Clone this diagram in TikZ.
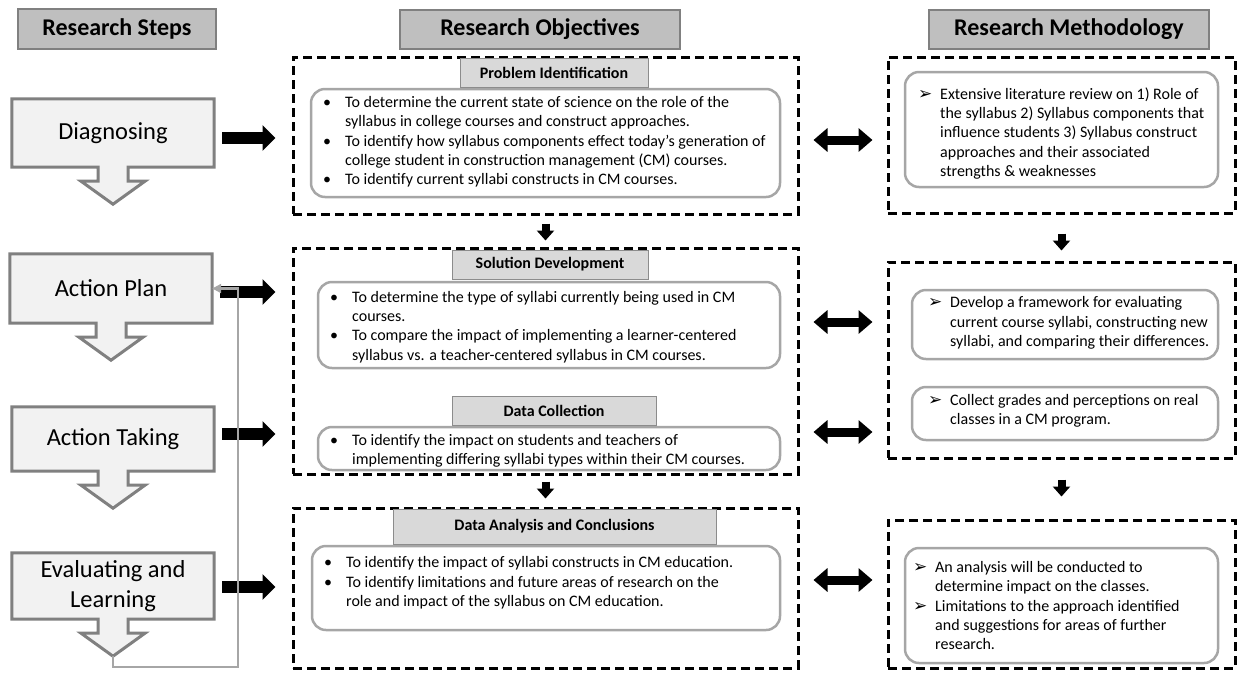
\documentclass[tikz,border=0pt]{standalone}
\usepackage{fontspec}
\setmainfont{Carlito}
\newfontfamily\symfont{DejaVu Sans}
\usetikzlibrary{calc, positioning}
\usetikzlibrary{arrows.meta}
\usetikzlibrary{backgrounds}

\definecolor{stepfill}{HTML}{F2F2F2}
\definecolor{stepline}{HTML}{808080}
\definecolor{headfill}{HTML}{BFBFBF}
\definecolor{titlefill}{HTML}{D9D9D9}
\definecolor{titleline}{HTML}{8C8C8C}
\definecolor{roundline}{HTML}{A6A6A6}

% bullets for the text boxes
\newcommand{\bul}{\makebox[24pt][l]{\hspace{2pt}\textbullet}}
\newcommand{\cont}{\hspace*{24pt}}
\newcommand{\arr}{\makebox[22pt][l]{{\symfont\fontsize{17}{16}\selectfont ➢}}}
\newcommand{\arrc}{\hspace*{22pt}}

\tikzset{
  headbox/.style={draw=stepline, fill=headfill, line width=1.5, inner sep=0,
    font=\bfseries\fontsize{24}{28}\selectfont},
  steptext/.style={minimum width=202, minimum height=#1, inner sep=0, align=center,
    font=\fontsize{24.5}{30}\selectfont},
  stepline/.style={draw=stepline, fill=stepfill, line width=3},
  dashbox/.style={draw=black, line width=3, dash pattern=on 9pt off 5pt, inner sep=0},
  titlebox/.style={draw=titleline, fill=titlefill, line width=1, inner sep=0,
    font=\bfseries\fontsize{16}{19}\selectfont},
  roundbox/.style={draw=roundline, fill=white, line width=2.5, rounded corners=14, inner sep=0},
  bodytext/.style={anchor=west, align=left, inner sep=0, font=\fontsize{16}{19.3}\selectfont},
  bigarrow/.style={line width=12, -{Triangle[length=13pt, width=25pt]}, shorten <=8, shorten >=16},
  dblarrow/.style={line width=9, {Triangle[length=14pt, width=23pt]}-{Triangle[length=14pt, width=23pt]},
    shorten <=14, shorten >=14},
  downarrow/.style={line width=8, -{Triangle[length=10pt, width=17pt]}},
  loopline/.style={draw=roundline, line width=2.5, -{Triangle[length=9pt, width=9pt]}},
}

\begin{document}
\begin{tikzpicture}[x=1pt, y=-1pt]
\def\stemw{15}
\def\steml{14}
\def\headw{32}
\def\headl{23}
\useasboundingbox (0,0) rectangle (1239,673);

% column headers
\node[headbox, minimum width=198, minimum height=40] (hsteps) at (117,29) {Research Steps};
\node[headbox, minimum width=280, minimum height=39] (hobj) at (540,29.5) {Research Objectives};
\node[headbox, minimum width=280, minimum height=39] (hmeth) at (1069,29.5) {Research Methodology};

% research steps
\node[steptext=68] (diag) at (113,133) {Diagnosing};
\node[steptext=69] (plan) at (111,288.5) {Action Plan};
\node[steptext=64] (take) at (113,439) {Action Taking};
\node[steptext=66] (eval) at (113,586) {Evaluating and\\Learning};

\begin{scope}[on background layer]
\foreach \stp in {diag,plan,take,eval}{
  \draw[stepline] (\stp.north west) -- (\stp.north east) -- (\stp.south east)
    -- ($(\stp.south)+(\stemw,0)$) -- ++(0,\steml) -- ++({\headw-\stemw},0)
    -- ($(\stp.south)+(0,{\steml+\headl})$) coordinate (\stp-tip)
    -- ($(\stp.south)+(-\headw,\steml)$) -- ++({\headw-\stemw},0)
    -- ($(\stp.south)+(-\stemw,0)$) -- (\stp.south west) -- cycle;
}
\end{scope}

% research objectives
\node[dashbox, minimum width=505, minimum height=157] (obj1) at (545.5,135.5) {};
\node[roundbox, minimum width=469, minimum height=108] (bprob) at (545.5,143) {};
\node[titlebox, minimum width=188, minimum height=29] (tprob) at (554,72.5) {Problem Identification};
\node[bodytext] (xprob) at (321,142) {\bul To determine the current state of science on the role of the\\
  \cont syllabus in college courses and construct approaches.\\
  \bul To identify how syllabus components effect today’s generation of\\
  \cont college student in construction management (CM) courses.\\
  \bul To identify current syllabi constructs in CM courses.};

\node[dashbox, minimum width=505, minimum height=226] (obj2) at (545.5,361) {};
\node[roundbox, minimum width=462, minimum height=86] (bsol) at (549,325) {};
\node[titlebox, minimum width=196, minimum height=29] (tsol) at (550,264.5) {Solution Development};
\node[bodytext] (xsol) at (328,327) {\bul To determine the type of syllabi currently being used in CM\\
  \cont courses.\\
  \bul To compare the impact of implementing a learner-centered\\
  \cont syllabus vs. a teacher-centered syllabus in CM courses.};
\node[roundbox, minimum width=462, minimum height=43] (bcol) at (549,448.5) {};
\node[titlebox, minimum width=204, minimum height=29] (tdata) at (554,410.5) {Data Collection};
\node[bodytext] (xcol) at (328,451) {\bul To identify the impact on students and teachers of\\
  \cont implementing differing syllabi types within their CM courses.};

\node[dashbox, minimum width=505, minimum height=160] (obj3) at (545.5,588) {};
\node[roundbox, minimum width=468, minimum height=84] (bana) at (546,588) {};
\node[titlebox, minimum width=323, minimum height=35] (tana) at (554.5,526.5) {Data Analysis and Conclusions};
\node[bodytext] (xana) at (322,583) {\bul To identify the impact of syllabi constructs in CM education.\\
  \bul To identify limitations and future areas of research on the\\
  \cont role and impact of the syllabus on CM education.};

% research methodology
\node[dashbox, minimum width=347, minimum height=156] (meth1) at (1061.5,135) {};
\node[roundbox, minimum width=313, minimum height=115] (mlit) at (1061.5,129.5) {};
\node[bodytext] (xlit) at (918,133.5) {\arr Extensive literature review on 1) Role of\\
  \arrc the syllabus 2) Syllabus components that\\
  \arrc influence students 3) Syllabus construct\\
  \arrc approaches and their associated\\
  \arrc strengths \& weaknesses};

\node[dashbox, minimum width=347, minimum height=196] (meth2) at (1061.5,360) {};
\node[roundbox, minimum width=306, minimum height=69] (mframe) at (1065,324.5) {};
\node[bodytext] (xframe) at (928,323) {\arr Develop a framework for evaluating\\
  \arrc current course syllabi, constructing new\\
  \arrc syllabi, and comparing their differences.};
\node[roundbox, minimum width=306, minimum height=53] (mgrade) at (1065,413.5) {};
\node[bodytext] (xgrade) at (928,410.5) {\arr Collect grades and perceptions on real\\
  \arrc classes in a CM program.};

\node[dashbox, minimum width=347, minimum height=148] (meth3) at (1061.5,594) {};
\node[roundbox, minimum width=313, minimum height=115] (manal) at (1061.5,605.5) {};
\node[bodytext] (xanal) at (913,605.5) {\arr An analysis will be conducted to\\
  \arrc determine impact on the classes.\\
  \arr Limitations to the approach identified\\
  \arrc and suggestions for areas of further\\
  \arrc research.};

% steps to objectives
\coordinate (a1) at (0,138);
\coordinate (a2) at (0,292);
\coordinate (a3) at (0,434);
\coordinate (a4) at (0,587);
\draw[bigarrow] (diag.east |- a1) -- (obj1.west |- a1);
\draw[bigarrow] (plan.east |- a2) -- (obj2.west |- a2);
\draw[bigarrow] (take.east |- a3) -- (obj2.west |- a3);
\draw[bigarrow] (eval.east |- a4) -- (obj3.west |- a4);

% objectives to methodology
\coordinate (d1) at (0,140);
\coordinate (d2) at (0,322);
\coordinate (d3) at (0,432);
\coordinate (d4) at (0,580);
\draw[dblarrow] (obj1.east |- d1) -- (meth1.west |- d1);
\draw[dblarrow] (obj2.east |- d2) -- (meth2.west |- d2);
\draw[dblarrow] (obj2.east |- d3) -- (meth2.west |- d3);
\draw[dblarrow] (obj3.east |- d4) -- (meth3.west |- d4);

% flow between boxes
\draw[downarrow, shorten <=8, shorten >=6] (obj1.south) -- (obj2.north);
\draw[downarrow, shorten <=6, shorten >=8] (obj2.south) -- (obj3.north);
\draw[downarrow, shorten <=19, shorten >=10] (meth1.south) -- (meth2.north);
\draw[downarrow, shorten <=20, shorten >=22] (meth2.south) -- (meth3.north);

% feedback loop
\coordinate (loopx) at (238,667);
\draw[loopline] (eval-tip) |- (loopx) |- (plan.east);
\end{tikzpicture}
\end{document}
